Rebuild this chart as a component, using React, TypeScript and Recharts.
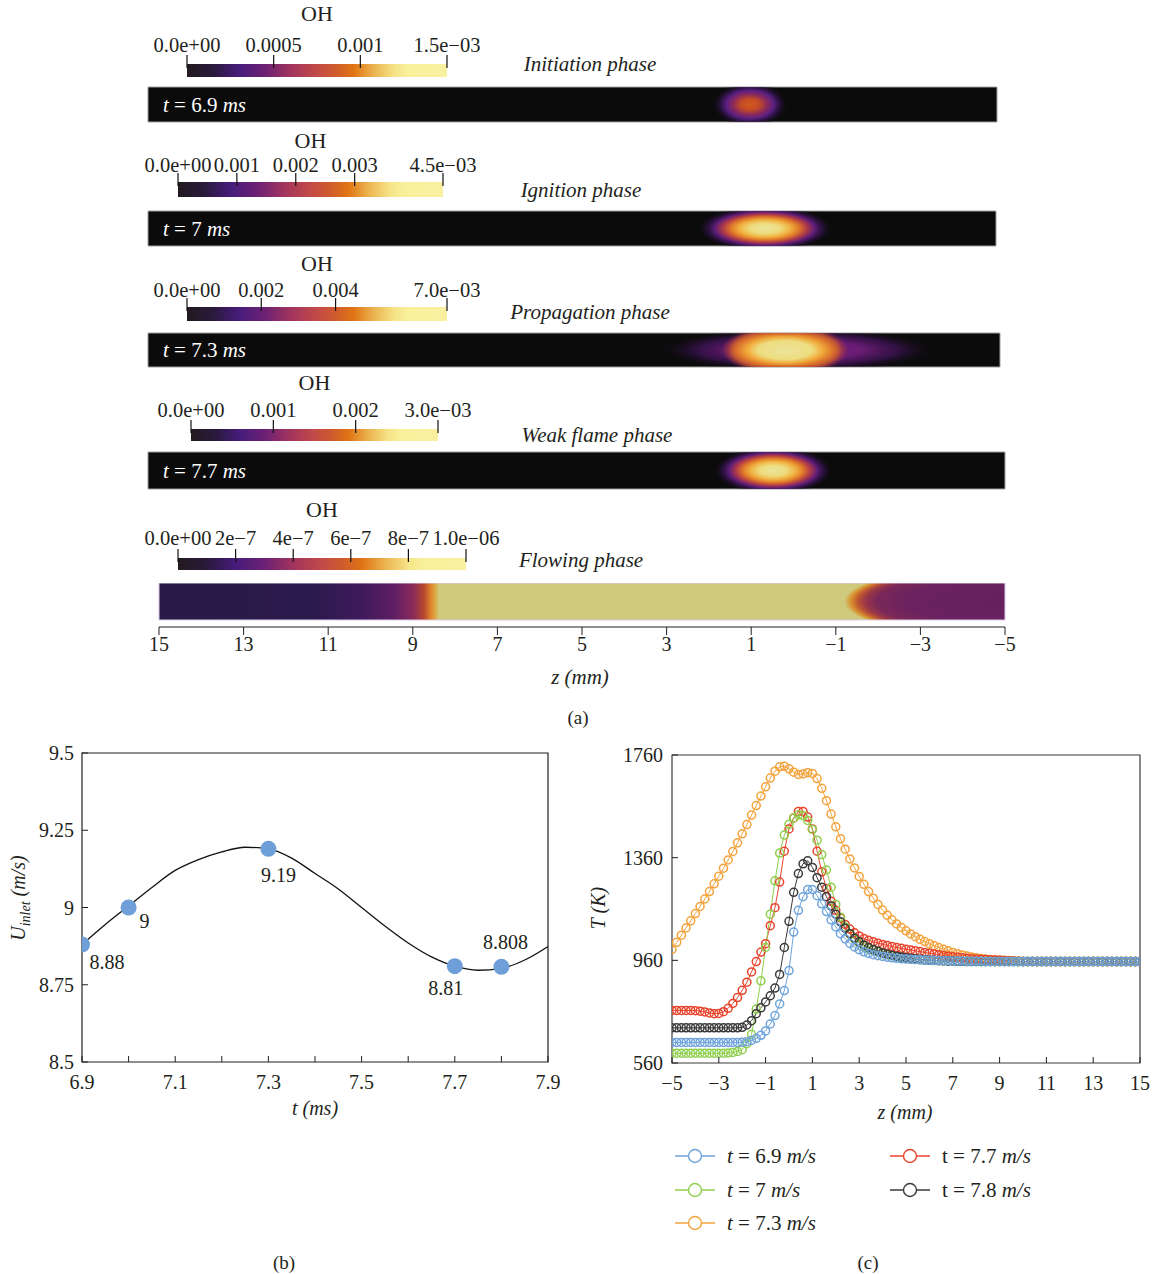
import React from "react";
import { ComposedChart, Line, Scatter, XAxis, YAxis, ReferenceArea } from "recharts";

const SERIF = '"Liberation Serif", "DejaVu Serif", serif';
const INK = "#231f20";
const PAGE_W = 1155;
const PAGE_H = 1274;

// ---------- (a) OH fields ----------
const phaseNames = ["Initiation phase", "Ignition phase", "Propagation phase", "Weak flame phase", "Flowing phase"];
const phaseTimes = ["6.9", "7", "7.3", "7.7"];
const ohMax = [0.0015, 0.0045, 0.007, 0.003, 0.000001];
const ohTicks = [
  [0, 0.0005, 0.001, 0.0015],
  [0, 0.001, 0.002, 0.003, 0.0045],
  [0, 0.002, 0.004, 0.007],
  [0, 0.001, 0.002, 0.003],
  [0, 2e-7, 4e-7, 6e-7, 8e-7, 1e-6],
];
const ohTickLabels = [
  ["0.0e+00", "0.0005", "0.001", "1.5e\u221203"],
  ["0.0e+00", "0.001", "0.002", "0.003", "4.5e\u221203"],
  ["0.0e+00", "0.002", "0.004", "7.0e\u221203"],
  ["0.0e+00", "0.001", "0.002", "3.0e\u221203"],
  ["0.0e+00", "2e\u22127", "4e\u22127", "6e\u22127", "8e\u22127", "1.0e\u221206"],
];

// flame kernels in the strips (z, mm)
const kernelRow = [0, 1, 2, 2, 2, 2, 3];
const kernelZ = [0.82, 0.45, -0.25, 0.56, -0.47, 0.05, 0.41];
const kernelHalfWidth = [0.9, 1.6, 3.3, 0.95, 0.95, 1.5, 1.4];
const kernelKind = ["weak", "strong", "halo", "core", "core", "core", "strong"];

// flowing phase: burnt band between these fronts (z, mm)
const flowFrontUpstream = 8.4;
const flowFrontDownstream = -1.2;

const zTicksA = [15, 13, 11, 9, 7, 5, 3, 1, -1, -3, -5];

// ---------- (b) inlet velocity ----------
const tPoints = [6.9, 7.0, 7.3, 7.7, 7.8];
const uPoints = [8.88, 9, 9.19, 8.81, 8.808];
const uLabels = ["8.88", "9", "9.19", "8.81", "8.808"];
const tCurve = [6.9, 6.95, 7.0, 7.05, 7.1, 7.15, 7.2, 7.25, 7.3, 7.35, 7.4, 7.45, 7.5, 7.55, 7.6, 7.65, 7.7, 7.75, 7.8, 7.85, 7.9];
const uCurve = [8.88, 8.945, 9.005, 9.065, 9.12, 9.155, 9.18, 9.195, 9.19, 9.16, 9.11, 9.06, 9.0, 8.94, 8.885, 8.84, 8.81, 8.797, 8.803, 8.83, 8.874];
const tTicks = [6.9, 7, 7.1, 7.2, 7.3, 7.4, 7.5, 7.6, 7.7, 7.8, 7.9];
const tTickLabelled = [6.9, 7.1, 7.3, 7.5, 7.7, 7.9];
const uTicks = [8.5, 8.75, 9, 9.25, 9.5];

// ---------- (c) temperature profiles ----------
const zProfile = [
  -5, -4.8, -4.6, -4.4, -4.2, -4, -3.8, -3.6, -3.4, -3.2,
  -3, -2.8, -2.6, -2.4, -2.2, -2, -1.8, -1.6, -1.4, -1.2,
  -1, -0.8, -0.6, -0.4, -0.2, 0, 0.2, 0.4, 0.6, 0.8,
  1, 1.2, 1.4, 1.6, 1.8, 2, 2.2, 2.4, 2.6, 2.8,
  3, 3.2, 3.4, 3.6, 3.8, 4, 4.2, 4.4, 4.6, 4.8,
  5, 5.2, 5.4, 5.6, 5.8, 6, 6.2, 6.4, 6.6, 6.8,
  7, 7.2, 7.4, 7.6, 7.8, 8, 8.2, 8.4, 8.6, 8.8,
  9, 9.2, 9.4, 9.6, 9.8, 10, 10.2, 10.4, 10.6, 10.8,
  11, 11.2, 11.4, 11.6, 11.8, 12, 12.2, 12.4, 12.6, 12.8,
  13, 13.2, 13.4, 13.6, 13.8, 14, 14.2, 14.4, 14.6, 14.8,
  15,
];
const T69 = [
  640, 640, 640, 640, 640, 640, 640, 640, 640, 640,
  640, 640, 640, 640, 640, 641, 643, 648, 656, 668,
  685, 712, 745, 790, 842, 920, 1070, 1155, 1208, 1236,
  1236, 1212, 1180, 1150, 1118, 1090, 1064, 1044, 1026, 1012,
  1001, 993, 987, 982, 978, 975, 972, 970, 968, 966,
  965, 964, 963, 962, 961, 960, 959, 959, 958, 958,
  957, 957, 957, 956, 956, 956, 956, 955, 955, 955,
  955, 955, 955, 955, 955, 955, 955, 955, 955, 955,
  955, 955, 955, 955, 955, 955, 955, 955, 955, 955,
  955, 955, 955, 955, 955, 955, 955, 955, 955, 955,
  955,
];
const T70 = [
  598, 598, 598, 598, 598, 598, 598, 598, 598, 598,
  598, 598, 599, 601, 605, 612, 635, 672, 770, 880,
  1010, 1140, 1270, 1378, 1448, 1490, 1515, 1527, 1524, 1505,
  1470, 1428, 1372, 1312, 1245, 1178, 1128, 1090, 1062, 1042,
  1027, 1015, 1006, 999, 993, 987, 982, 978, 974, 971,
  968, 966, 964, 962, 961, 960, 959, 958, 958, 957,
  957, 956, 956, 956, 955, 955, 955, 955, 955, 955,
  955, 955, 955, 955, 955, 955, 955, 955, 955, 955,
  955, 955, 955, 955, 955, 955, 955, 955, 955, 955,
  955, 955, 955, 955, 955, 955, 955, 955, 955, 955,
  955,
];
const T73 = [
  1003, 1030, 1058, 1086, 1114, 1142, 1170, 1199, 1228, 1258,
  1288, 1319, 1351, 1384, 1418, 1453, 1489, 1526, 1563, 1600,
  1636, 1670, 1697, 1714, 1716, 1706, 1693, 1684, 1686, 1691,
  1688, 1668, 1630, 1582, 1530, 1480, 1434, 1393, 1355, 1320,
  1287, 1256, 1228, 1202, 1178, 1156, 1136, 1118, 1102, 1088,
  1075, 1063, 1052, 1042, 1033, 1025, 1017, 1010, 1003, 997,
  991, 986, 981, 977, 973, 970, 967, 965, 963, 962,
  961, 960, 959, 958, 957, 956, 955, 955, 955, 955,
  955, 955, 955, 955, 955, 955, 955, 955, 955, 955,
  955, 955, 955, 955, 955, 955, 955, 955, 955, 955,
  955,
];
const T77 = [
  765, 765, 765, 765, 765, 764, 762, 759, 755, 752,
  753, 760, 773, 792, 815, 843, 875, 915, 955, 992,
  1025, 1095, 1165, 1265, 1385, 1472, 1515, 1540, 1540, 1518,
  1472, 1385, 1305, 1240, 1190, 1155, 1125, 1100, 1082, 1067,
  1055, 1045, 1038, 1032, 1027, 1022, 1018, 1014, 1010, 1007,
  1003, 1000, 997, 994, 991, 988, 985, 982, 979, 976,
  974, 972, 970, 968, 966, 965, 964, 963, 962, 961,
  960, 959, 958, 957, 956, 955, 955, 955, 955, 955,
  955, 955, 955, 955, 955, 955, 955, 955, 955, 955,
  955, 955, 955, 955, 955, 955, 955, 955, 955, 955,
  955,
];
const T78 = [
  697, 697, 697, 697, 697, 697, 697, 697, 697, 697,
  697, 697, 697, 697, 697, 699, 708, 725, 752, 775,
  798, 822, 852, 905, 1010, 1112, 1225, 1298, 1336, 1348,
  1322, 1282, 1245, 1208, 1172, 1140, 1110, 1085, 1064, 1046,
  1032, 1020, 1010, 1002, 995, 989, 984, 980, 976, 973,
  970, 968, 966, 964, 962, 961, 960, 959, 958, 957,
  957, 956, 956, 955, 955, 955, 955, 955, 955, 955,
  955, 955, 955, 955, 955, 955, 955, 955, 955, 955,
  955, 955, 955, 955, 955, 955, 955, 955, 955, 955,
  955, 955, 955, 955, 955, 955, 955, 955, 955, 955,
  955,
];
const zTicksC = [-5, -3, -1, 1, 3, 5, 7, 9, 11, 13, 15];
const TTicks = [560, 960, 1360, 1760];

const seriesKeys = ["T69", "T70", "T73", "T77", "T78"];
const seriesTimes = ["6.9", "7", "7.3", "7.7", "7.8"];
const seriesColors = ["#6fa3dc", "#8fcf4e", "#f4a23c", "#e8442c", "#3a3a3a"];
const drawOrder = [2, 3, 1, 4, 0];

const profileRows = zProfile.map((z, i) => ({
  z,
  T69: T69[i],
  T70: T70[i],
  T73: T73[i],
  T77: T77[i],
  T78: T78[i],
}));

// layout of panel (a) rows, page pixels
const rowLayout = [
  { oh: 14, lab: 45, barTop: 64, barBot: 77, barL: 187, barR: 447, phaseX: 590, phaseY: 64, sTop: 87, sBot: 122, sL: 148, sR: 997 },
  { oh: 141, lab: 165, barTop: 182, barBot: 197, barL: 178, barR: 443, phaseX: 581, phaseY: 190, sTop: 211, sBot: 246, sL: 148, sR: 996 },
  { oh: 264, lab: 290, barTop: 307, barBot: 321, barL: 187, barR: 447, phaseX: 590, phaseY: 312, sTop: 333, sBot: 367, sL: 148, sR: 1000 },
  { oh: 383, lab: 410, barTop: 429, barBot: 441, barL: 191, barR: 438, phaseX: 597, phaseY: 435, sTop: 452, sBot: 489, sL: 148, sR: 1005 },
  { oh: 510, lab: 538, barTop: 558, barBot: 570, barL: 178, barR: 466, phaseX: 581, phaseY: 560, sTop: 583, sBot: 620, sL: 159, sR: 1005 },
];

const minus = (v: number) => (v < 0 ? "\u2212" + Math.abs(v) : String(v));

function Txt({ x, y, size = 18, children, style }: any) {
  return (
    <div
      style={{
        position: "absolute",
        left: x,
        top: y,
        transform: "translate(-50%, -50%)",
        whiteSpace: "nowrap",
        fontSize: size,
        lineHeight: 1,
        ...style,
      }}
    >
      {children}
    </div>
  );
}

const stretch = "translate(0.5 0.5) scale(1 1.3) translate(-0.5 -0.5)";

function Gradients() {
  return (
    <svg width={0} height={0} style={{ position: "absolute" }}>
      <defs>
        <linearGradient id="ohMap" x1="0" y1="0" x2="1" y2="0">
          <stop offset="0" stopColor="#221a20" />
          <stop offset="0.1" stopColor="#2a1a3c" />
          <stop offset="0.2" stopColor="#471c7c" />
          <stop offset="0.3" stopColor="#6c2174" />
          <stop offset="0.4" stopColor="#a2345e" />
          <stop offset="0.5" stopColor="#c24a48" />
          <stop offset="0.57" stopColor="#cf5a2e" />
          <stop offset="0.64" stopColor="#e07414" />
          <stop offset="0.72" stopColor="#ecb450" />
          <stop offset="0.8" stopColor="#f6e488" />
          <stop offset="0.85" stopColor="#f8f09a" />
          <stop offset="1" stopColor="#f8f0a0" />
        </linearGradient>
        <radialGradient id="k_weak" cx="0.5" cy="0.5" r="0.5" gradientTransform={stretch}>
          <stop offset="0" stopColor="#d25c1c" />
          <stop offset="0.25" stopColor="#c34a28" />
          <stop offset="0.45" stopColor="#8a2a5c" />
          <stop offset="0.62" stopColor="#5a2082" />
          <stop offset="0.8" stopColor="#2a1040" stopOpacity={0.8} />
          <stop offset="1" stopColor="#0b0b0b" stopOpacity={0} />
        </radialGradient>
        <radialGradient id="k_strong" cx="0.5" cy="0.5" r="0.5" gradientTransform={stretch}>
          <stop offset="0" stopColor="#eae49c" />
          <stop offset="0.22" stopColor="#eedc7e" />
          <stop offset="0.38" stopColor="#f0b040" />
          <stop offset="0.5" stopColor="#e07a28" />
          <stop offset="0.62" stopColor="#b03a48" />
          <stop offset="0.74" stopColor="#5c1c78" />
          <stop offset="0.88" stopColor="#2a1040" stopOpacity={0.6} />
          <stop offset="1" stopColor="#0b0b0b" stopOpacity={0} />
        </radialGradient>
        <radialGradient id="k_halo" cx="0.5" cy="0.5" r="0.5" gradientTransform={stretch}>
          <stop offset="0" stopColor="#7a2078" />
          <stop offset="0.45" stopColor="#6a1c74" />
          <stop offset="0.72" stopColor="#3a1250" stopOpacity={0.8} />
          <stop offset="1" stopColor="#0b0b0b" stopOpacity={0} />
        </radialGradient>
        <radialGradient id="k_core" cx="0.5" cy="0.5" r="0.5" gradientTransform={stretch}>
          <stop offset="0" stopColor="#ece49a" />
          <stop offset="0.42" stopColor="#eedd80" />
          <stop offset="0.6" stopColor="#f0a838" />
          <stop offset="0.76" stopColor="#d86a28" stopOpacity={0.85} />
          <stop offset="0.9" stopColor="#a83a40" stopOpacity={0.35} />
          <stop offset="1" stopColor="#a83a40" stopOpacity={0} />
        </radialGradient>
        <linearGradient id="flowLeft" x1="0" y1="0" x2="1" y2="0">
          <stop offset="0" stopColor="#291a48" />
          <stop offset="0.55" stopColor="#2b1a4c" />
          <stop offset="0.72" stopColor="#3e1a5c" />
          <stop offset="0.84" stopColor="#5e1e64" />
          <stop offset="0.91" stopColor="#8a2a58" />
          <stop offset="0.95" stopColor="#b8482e" />
          <stop offset="0.975" stopColor="#e0882a" />
          <stop offset="1" stopColor="#d8c060" />
        </linearGradient>
        <radialGradient id="flowRight" cx="1" cy="0.5" r="1" fx="1" fy="0.5">
          <stop offset="0" stopColor="#66205e" />
          <stop offset="0.6" stopColor="#6a2260" />
          <stop offset="0.8" stopColor="#7a2858" />
          <stop offset="0.87" stopColor="#9a3646" />
          <stop offset="0.92" stopColor="#c05a30" />
          <stop offset="0.96" stopColor="#d8922e" />
          <stop offset="1" stopColor="#cfc97b" />
        </radialGradient>
      </defs>
    </svg>
  );
}

function ColourBar({ row }: { row: number }) {
  const L = rowLayout[row];
  const pad = 50;
  const top = L.lab - 14;
  const w = L.barR - L.barL + 2 * pad;
  const h = L.barBot - top;
  const axisH = L.barTop - top;
  const ticks = ohTicks[row];
  const labels = ohTickLabels[row];
  const rows = ticks.map((v) => ({ v, f: 0.5 }));
  const tick = (p: any) => {
    const k = ticks.indexOf(p.payload.value);
    return (
      <g>
        <line x1={p.x} x2={p.x} y1={axisH - 9} y2={axisH + 4} stroke="#111" strokeWidth={1.2} />
        <text x={p.x} y={14} textAnchor="middle" dominantBaseline="central" fontSize={20.5} fontFamily={SERIF} fill={INK}>
          {labels[k]}
        </text>
      </g>
    );
  };
  return (
    <>
      <Txt x={(L.barL + L.barR) / 2} y={L.oh} size={22}>OH</Txt>
      <div style={{ position: "absolute", left: L.barL - pad, top }}>
        <ComposedChart width={w} height={h} data={rows} margin={{ top: 0, right: pad, bottom: 0, left: pad }}>
          <XAxis
            type="number"
            dataKey="v"
            orientation="top"
            domain={[0, ohMax[row]]}
            ticks={ticks}
            interval={0}
            height={axisH}
            axisLine={false}
            tickLine={false}
            tick={tick}
            allowDataOverflow
          />
          <YAxis type="number" dataKey="f" domain={[0, 1]} hide width={0} allowDataOverflow />
          <ReferenceArea x1={0} x2={ohMax[row]} y1={0} y2={1} fill="url(#ohMap)" fillOpacity={1} stroke="none" />
        </ComposedChart>
      </div>
      <Txt x={L.phaseX} y={L.phaseY} size={21}>
        <i>{phaseNames[row]}</i>
      </Txt>
    </>
  );
}

function DarkStrip({ row }: { row: number }) {
  const L = rowLayout[row];
  const h = L.sBot - L.sTop;
  const kernels = kernelRow.map((_, i) => i).filter((i) => kernelRow[i] === row);
  const rows = kernels.map((i) => ({ z: kernelZ[i], f: 0.5 }));
  return (
    <div style={{ position: "absolute", left: 0, top: L.sTop - 1 }}>
      <ComposedChart width={PAGE_W} height={h + 2} data={rows} margin={{ top: 1, right: PAGE_W - L.sR, bottom: 1, left: L.sL }}>
        <XAxis type="number" dataKey="z" domain={[-5, 15]} reversed hide height={0} allowDataOverflow />
        <YAxis type="number" dataKey="f" domain={[0, 1]} hide width={0} allowDataOverflow />
        <ReferenceArea x1={15} x2={-5} y1={0} y2={1} fill="#0b0b0b" fillOpacity={1} stroke="#a0a0a0" strokeWidth={1} />
        {kernels.map((i) => (
          <ReferenceArea
            key={i}
            x1={kernelZ[i] + kernelHalfWidth[i]}
            x2={kernelZ[i] - kernelHalfWidth[i]}
            y1={0}
            y2={1}
            fill={`url(#k_${kernelKind[i]})`}
            fillOpacity={1}
            stroke="none"
            ifOverflow="hidden"
          />
        ))}
      </ComposedChart>
      <div
        style={{
          position: "absolute",
          left: 163,
          top: h / 2 + 1,
          transform: "translateY(-50%)",
          color: "#fff",
          fontSize: 21,
          whiteSpace: "nowrap",
          lineHeight: 1,
        }}
      >
        <i>t</i> = {phaseTimes[row]} <i>ms</i>
      </div>
    </div>
  );
}

function FlowStrip() {
  const L = rowLayout[4];
  const H = 75;
  const axisH = 31;
  const plotH = H - axisH; // strip top .. axis line
  const gap = (plotH - (L.sBot - L.sTop)) / plotH;
  const rows = zTicksA.map((z) => ({ z, f: 0.5 }));
  return (
    <div style={{ position: "absolute", left: 0, top: L.sTop }}>
      <ComposedChart width={PAGE_W} height={H} data={rows} margin={{ top: 0, right: PAGE_W - L.sR, bottom: 0, left: L.sL }}>
        <XAxis
          type="number"
          dataKey="z"
          domain={[-5, 15]}
          reversed
          ticks={zTicksA}
          interval={0}
          height={axisH}
          tickSize={8}
          tickFormatter={minus}
          tick={{ fontSize: 20, fill: INK, fontFamily: SERIF }}
          axisLine={{ stroke: INK }}
          tickLine={{ stroke: INK }}
          allowDataOverflow
        />
        <YAxis type="number" dataKey="f" domain={[0, 1]} hide width={0} allowDataOverflow />
        <ReferenceArea x1={15} x2={-5} y1={gap} y2={1} fill="#cfc97b" fillOpacity={1} stroke="none" />
        <ReferenceArea x1={15} x2={flowFrontUpstream} y1={gap} y2={1} fill="url(#flowLeft)" fillOpacity={1} stroke="none" />
        <ReferenceArea x1={flowFrontDownstream} x2={-5} y1={gap} y2={1} fill="url(#flowRight)" fillOpacity={1} stroke="none" />
        <ReferenceArea x1={15} x2={-5} y1={gap} y2={1} fill="none" fillOpacity={0} stroke="#dccbe8" />
      </ComposedChart>
    </div>
  );
}

function InletPanel() {
  const W = 570;
  const H = 390;
  const m = { top: 13, right: 22, bottom: 38, left: 22 };
  const yAxisW = 60;
  const xAxisH = 30;
  const plotBottom = H - m.bottom - xAxisH;
  const plotLeft = m.left + yAxisW;
  const curve = tCurve.map((t, i) => ({ t, u: uCurve[i] }));
  const pts = tPoints.map((t, i) => ({ t, u: uPoints[i] }));
  const labelOffset = [[25, 17], [16, 13], [10, 26], [-9, 22], [4, -25]];

  const xTick = (p: any) => {
    const v = p.payload.value;
    const show = tTickLabelled.indexOf(v) >= 0;
    return (
      <g>
        <line x1={p.x} x2={p.x} y1={plotBottom} y2={plotBottom - 6} stroke={INK} />
        {show && (
          <text x={p.x} y={plotBottom + 20} textAnchor="middle" dominantBaseline="central" fontSize={20} fontFamily={SERIF} fill={INK}>
            {v.toFixed(1)}
          </text>
        )}
      </g>
    );
  };
  const yTick = (p: any) => (
    <g>
      <line x1={plotLeft} x2={plotLeft + 6} y1={p.y} y2={p.y} stroke={INK} />
      <text x={plotLeft - 8} y={p.y} textAnchor="end" dominantBaseline="central" fontSize={20} fontFamily={SERIF} fill={INK}>
        {String(p.payload.value)}
      </text>
    </g>
  );
  const dotShape = (p: any) => {
    const k = tPoints.indexOf(p.payload.t);
    const off = labelOffset[k] || [0, 0];
    return (
      <g>
        <circle cx={p.cx} cy={p.cy} r={8} fill="#6f9fd8" />
        <text x={p.cx + off[0]} y={p.cy + off[1]} textAnchor="middle" dominantBaseline="central" fontSize={20} fontFamily={SERIF} fill={INK}>
          {uLabels[k]}
        </text>
      </g>
    );
  };

  return (
    <div style={{ position: "absolute", left: 0, top: 740 }}>
      <ComposedChart width={W} height={H} margin={m}>
        <XAxis type="number" dataKey="t" domain={[6.9, 7.9]} ticks={tTicks} interval={0} height={xAxisH} axisLine={false} tickLine={false} tick={xTick} allowDataOverflow />
        <YAxis type="number" domain={[8.5, 9.5]} ticks={uTicks} interval={0} width={yAxisW} axisLine={false} tickLine={false} tick={yTick} allowDataOverflow />
        <ReferenceArea x1={6.9} x2={7.9} y1={8.5} y2={9.5} fill="none" fillOpacity={0} stroke={INK} strokeWidth={1.2} />
        <Line data={curve} dataKey="u" type="monotone" stroke="#111" strokeWidth={1.3} dot={false} isAnimationActive={false} />
        <Scatter data={pts} dataKey="u" shape={dotShape} isAnimationActive={false} />
      </ComposedChart>
      <Txt x={20} y={158} size={20} style={{ transform: "translate(-50%, -50%) rotate(-90deg)" }}>
        <i>
          U<sub style={{ fontSize: 14 }}>inlet</sub> (m/s)
        </i>
      </Txt>
      <Txt x={315} y={368} size={20}>
        <i>t (ms)</i>
      </Txt>
    </div>
  );
}

function TemperaturePanel() {
  const W = 575;
  const H = 390;
  const m = { top: 15, right: 15, bottom: 37, left: 32 };
  const yAxisW = 60;
  const xAxisH = 30;
  const plotBottom = H - m.bottom - xAxisH;
  const plotLeft = m.left + yAxisW;

  const xTick = (p: any) => (
    <g>
      <line x1={p.x} x2={p.x} y1={plotBottom} y2={plotBottom - 6} stroke={INK} />
      <text x={p.x} y={plotBottom + 20} textAnchor="middle" dominantBaseline="central" fontSize={20} fontFamily={SERIF} fill={INK}>
        {minus(p.payload.value)}
      </text>
    </g>
  );
  const yTick = (p: any) => (
    <g>
      <line x1={plotLeft} x2={plotLeft + 6} y1={p.y} y2={p.y} stroke={INK} />
      <text x={plotLeft - 9} y={p.y} textAnchor="end" dominantBaseline="central" fontSize={20} fontFamily={SERIF} fill={INK}>
        {String(p.payload.value)}
      </text>
    </g>
  );

  return (
    <div style={{ position: "absolute", left: 580, top: 740 }}>
      <ComposedChart width={W} height={H} data={profileRows} margin={m}>
        <XAxis type="number" dataKey="z" domain={[-5, 15]} ticks={zTicksC} interval={0} height={xAxisH} axisLine={false} tickLine={false} tick={xTick} allowDataOverflow />
        <YAxis type="number" domain={[560, 1760]} ticks={TTicks} interval={0} width={yAxisW} axisLine={false} tickLine={false} tick={yTick} allowDataOverflow />
        <ReferenceArea x1={-5} x2={15} y1={560} y2={1760} fill="none" fillOpacity={0} stroke="#3a3a3a" strokeWidth={1.2} />
        {drawOrder.map((s) => (
          <Line
            key={seriesKeys[s]}
            dataKey={seriesKeys[s]}
            type="linear"
            stroke={seriesColors[s]}
            strokeWidth={1}
            dot={{ r: 4, stroke: seriesColors[s], strokeWidth: 1.5, fill: "none" }}
            isAnimationActive={false}
          />
        ))}
      </ComposedChart>
      <Txt x={18} y={168} size={20} style={{ transform: "translate(-50%, -50%) rotate(-90deg)" }}>
        <i>T (K)</i>
      </Txt>
      <Txt x={325} y={372} size={20}>
        <i>z (mm)</i>
      </Txt>
    </div>
  );
}

function LegendC() {
  const place = [[675, 1156], [675, 1190], [675, 1223], [890, 1156], [890, 1190]];
  return (
    <>
      {seriesKeys.map((k, i) => {
        const [x, y] = place[i];
        const italicT = i < 3;
        return (
          <div key={k} style={{ position: "absolute", left: x, top: y - 10, height: 20, display: "flex", alignItems: "center", whiteSpace: "nowrap" }}>
            <svg width={40} height={20}>
              <line x1={0} x2={40} y1={10} y2={10} stroke={seriesColors[i]} strokeWidth={1.3} />
              <circle cx={20} cy={10} r={6.5} fill="#fff" stroke={seriesColors[i]} strokeWidth={1.4} />
            </svg>
            <span style={{ marginLeft: 12, fontSize: 21, lineHeight: 1 }}>
              {italicT ? <i>t</i> : "t"} = {seriesTimes[i]} <i>m/s</i>
            </span>
          </div>
        );
      })}
    </>
  );
}

export default function App() {
  return (
    <div
      style={{
        position: "absolute",
        left: 0,
        top: 0,
        width: PAGE_W,
        height: PAGE_H,
        background: "#fff",
        fontFamily: SERIF,
        color: INK,
        overflow: "hidden",
      }}
    >
      <Gradients />
      {rowLayout.map((_, i) => (
        <ColourBar key={i} row={i} />
      ))}
      {[0, 1, 2, 3].map((i) => (
        <DarkStrip key={i} row={i} />
      ))}
      <FlowStrip />
      <Txt x={580} y={677} size={21}>
        <i>z (mm)</i>
      </Txt>
      <Txt x={578} y={717} size={19}>(a)</Txt>
      <InletPanel />
      <TemperaturePanel />
      <LegendC />
      <Txt x={284} y={1262} size={19}>(b)</Txt>
      <Txt x={868} y={1262} size={19}>(c)</Txt>
    </div>
  );
}
